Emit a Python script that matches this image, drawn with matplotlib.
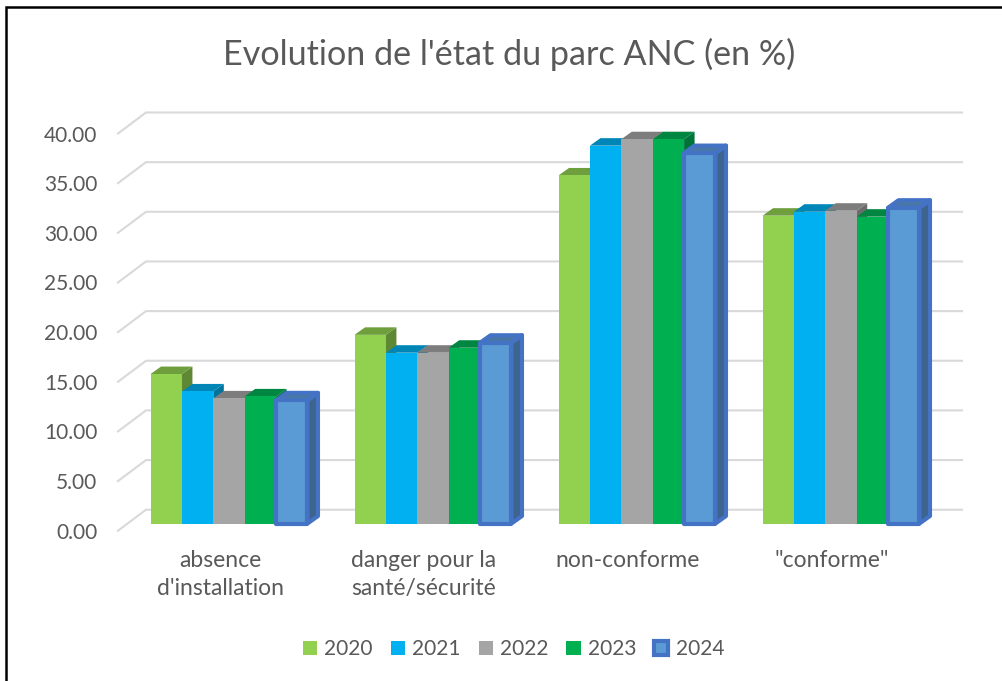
import matplotlib
matplotlib.use('Agg')
import matplotlib.pyplot as plt
from matplotlib.patches import Patch
from matplotlib.lines import Line2D

plt.rcParams['font.family'] = ['Lato', 'DejaVu Sans']

# Valeurs
categories = ["absence\nd'installation", "danger pour la\nsanté/sécurité", "non-conforme", '"conforme"']
years = ['2020', '2021', '2022', '2023', '2024']
v_2020 = [15.05, 19.0, 35.05, 31.0]
v_2021 = [13.3, 17.2, 38.05, 31.4]
v_2022 = [12.6, 17.2, 38.7, 31.5]
v_2023 = [12.8, 17.7, 38.7, 30.9]
v_2024 = [12.4, 18.2, 37.3, 31.8]
series = [v_2020, v_2021, v_2022, v_2023, v_2024]
y_ticks = [0, 5, 10, 15, 20, 25, 30, 35, 40]

front = ['#92d050', '#00b0f0', '#a5a5a5', '#00b050', '#5b9bd5']
top = ['#6f9e3d', '#0086b6', '#7d7d7d', '#008640', '#4a78a6']
side = ['#5f8835', '#00739d', '#6c6c6c', '#00733a', '#3c648c']
text_col = '#595959'
grid_col = '#d9d9d9'

W, H = 1003, 681
fig = plt.figure(figsize=(W / 100, H / 100), dpi=100)

# axes: x = categories, y = %, front plane of the floor
left, right, y0, y40 = 118, 934, 530.7, 133.5
ax = fig.add_axes([left / W, 1 - y0 / H, (right - left) / W, (y0 - y40) / H])
ax.set_xlim(0, 4)
ax.set_ylim(0, 40)
px_x = 4 / (right - left)
px_y = 40 / (y0 - y40)

# profondeur du mur et des barres, en pixels
wall_dx, wall_dy = 28 * px_x, 21 * px_y
bar_dx, bar_dy = 10.5 * px_x, 7.5 * px_y
lift_x, lift_y = 9 * px_x, 7.2 * px_y
bar_w = 1 / 6.5
gap = 0.75 * bar_w

for t in y_ticks:
    ax.plot([0, wall_dx, 4 + wall_dx], [t, t + wall_dy, t + wall_dy], color=grid_col,
            lw=1.5, clip_on=False, zorder=1, solid_joinstyle='miter')

for i, values in enumerate(series):
    for c, v in enumerate(values):
        x0 = c + gap + lift_x + i * bar_w
        x1 = x0 + bar_w
        b = lift_y
        t = lift_y + v
        z = 3 + i * 3
        last = i == 4
        edge = '#4472c4' if last else 'none'
        lw = 3 if last else 0
        ax.fill([x1, x1 + bar_dx, x1 + bar_dx, x1], [b, b + bar_dy, t + bar_dy, t],
                facecolor=side[i], edgecolor=edge, lw=lw, joinstyle='round',
                clip_on=False, zorder=z)
        ax.fill([x0, x1, x1 + bar_dx, x0 + bar_dx], [t, t, t + bar_dy, t + bar_dy],
                facecolor=top[i], edgecolor=edge, lw=lw, joinstyle='round',
                clip_on=False, zorder=z + 1)
        ax.bar(x0, v, width=bar_w, bottom=b, align='edge', color=front[i], edgecolor=edge,
               linewidth=lw, joinstyle='round', clip_on=False, zorder=z + 2)

ax.patch.set_visible(False)
for s in ax.spines.values():
    s.set_visible(False)

ax.set_yticks(y_ticks)
ax.set_yticklabels([f'{t:.2f}' for t in y_ticks], fontsize=15, color=text_col)
ax.set_xticks([0.5, 1.5, 2.5, 3.5])
ax.set_xticklabels(categories, fontsize=16.5, color=text_col, linespacing=1.42)
ax.tick_params(axis='both', length=0)
ax.tick_params(axis='y', pad=15)
ax.tick_params(axis='x', pad=14)

fig.text(509.5 / W, 1 - 54 / H, "Evolution de l'état du parc ANC (en %)", fontsize=24.6,
         color=text_col, ha='center', va='center')

handles = [Patch(facecolor=front[i], edgecolor='none') for i in range(4)]
handles.append(Patch(facecolor=front[4], edgecolor='#4472c4', linewidth=3))
fig.legend(handles, years, loc='center', bbox_to_anchor=(513.5 / W, 1 - 649 / H), ncol=5,
           frameon=False, fontsize=15, labelcolor=text_col, handlelength=0.68,
           handleheight=0.68, handletextpad=0.35, columnspacing=0.86)

# cadre noir, haut et gauche seulement
fig.add_artist(Line2D([6.5 / W, 6.5 / W, 1], [0, 1 - 6.5 / H, 1 - 6.5 / H], color='black',
                      lw=1.8, solid_joinstyle='miter'))

fig.savefig('out.png', dpi=100)
